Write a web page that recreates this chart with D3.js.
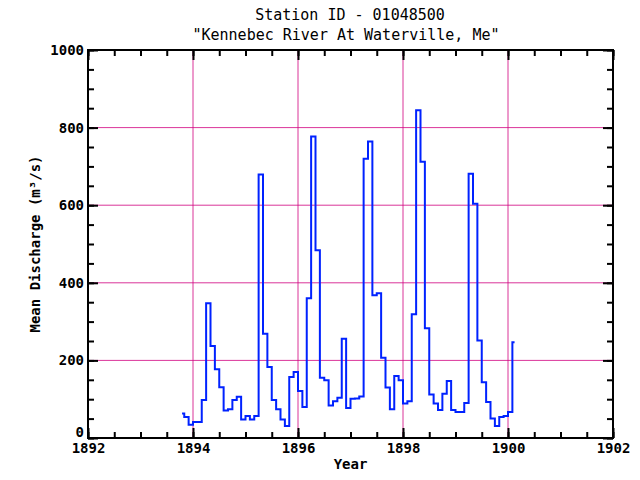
<!DOCTYPE html>
<html><head><meta charset="utf-8">
<script src="https://d3js.org/d3.v7.min.js"></script>
<style>body{margin:0;background:#fff}text{font-family:"DejaVu Sans Mono",monospace;font-weight:bold;fill:#000}</style>
</head><body><div id="chart"></div>
<script>
// monthly mean discharge, Oct 1893 .. Feb 1900
const startYear = 1893, startMonth = 9
const discharge = [
  63, 54, 34,
  41, 41, 98, 347, 237, 177, 131, 71, 74, 98, 106, 48,
  57, 48, 57, 679, 269, 183, 98, 74, 48, 31, 157, 170,
  121, 80, 360, 777, 484, 155, 149, 84, 95, 104, 256, 77,
  101, 102, 107, 720, 764, 368, 373, 207, 130, 74, 160, 149,
  89, 95, 319, 845, 712, 283, 112, 89, 72, 114, 147, 72,
  67, 67, 90, 681, 604, 251, 144, 93, 50, 31, 54, 57,
  67, 247
]
const xTicks = [1892, 1894, 1896, 1898, 1900, 1902]
const yTicks = [0, 200, 400, 600, 800, 1000]

const data = discharge.map((v, i) => ({t: startYear + (startMonth + i + 0.5) / 12, v: v}))

const W = 640, H = 480
const margin = {top: 50, right: 27, bottom: 42, left: 88}
const width = W - margin.left - margin.right,
    height = H - margin.top - margin.bottom

const svg = d3.select("#chart").append("svg").attr("width", W).attr("height", H)
const g = svg.append("g").attr("transform", `translate(${margin.left},${margin.top})`)

const x = d3.scaleLinear().domain([1892, 1902]).range([0, width])
const y = d3.scaleLinear().domain([0, 1000]).range([height, 0])

// grid
const grid = "#d0007f"
g.selectAll("line.hg").data(yTicks.slice(1, -1)).join("line")
    .attr("x1", 0).attr("x2", width).attr("y1", d => y(d)).attr("y2", d => y(d))
    .attr("stroke", grid).attr("stroke-width", 0.8)
g.selectAll("line.vg").data(xTicks.slice(1, -1)).join("line")
    .attr("y1", 0).attr("y2", height).attr("x1", d => x(d)).attr("x2", d => x(d))
    .attr("stroke", grid).attr("stroke-width", 0.8)

// data line
g.append("path").datum(data)
    .attr("fill", "none").attr("stroke", "#0022ff").attr("stroke-width", 2)
    .attr("d", d3.line().curve(d3.curveStep).x(d => x(d.t)).y(d => y(d.v)))

// axes, ticks inward
const minorX = d3.range(1892, 1902.01, 0.5), minorY = d3.range(0, 1000.1, 50)
function axis(gen, tr, labels) {
  const a = g.append("g").attr("transform", tr).call(gen)
  a.select(".domain").remove()
  a.selectAll("line").attr("stroke", "#000").attr("stroke-width", 2)
  if (!labels) a.selectAll("text").remove()
  else a.selectAll("text").style("font-size", "14px")
  return a
}
axis(d3.axisBottom(x).tickValues(minorX).tickSize(-6).tickFormat(""), `translate(0,${height})`)
axis(d3.axisBottom(x).tickValues(xTicks).tickSize(-10).tickPadding(5).tickFormat(d3.format("d")), `translate(0,${height})`, true)
axis(d3.axisTop(x).tickValues(minorX).tickSize(-6).tickFormat(""), "translate(0,0)")
axis(d3.axisTop(x).tickValues(xTicks).tickSize(-10).tickFormat(""), "translate(0,0)")
axis(d3.axisLeft(y).tickValues(minorY).tickSize(-6).tickFormat(""), "translate(0,0)")
const yl = axis(d3.axisLeft(y).tickValues(yTicks).tickSize(-10).tickPadding(4).tickFormat(d3.format("d")), "translate(0,0)", true)
yl.selectAll("text").filter(d => d === 0).attr("dy", "-0.1em")
axis(d3.axisRight(y).tickValues(minorY).tickSize(-6).tickFormat(""), `translate(${width},0)`)
axis(d3.axisRight(y).tickValues(yTicks).tickSize(-10).tickFormat(""), `translate(${width},0)`)

g.append("rect").attr("width", width).attr("height", height)
    .attr("fill", "none").attr("stroke", "#000").attr("stroke-width", 2)

// titles
svg.append("text").attr("x", 350).attr("y", 20).attr("text-anchor", "middle")
    .style("font-size", "15px").style("font-weight", "normal").text("Station ID - 01048500")
svg.append("text").attr("x", 346).attr("y", 40).attr("text-anchor", "middle")
    .style("font-size", "15px").style("font-weight", "normal").text("\"Kennebec River At Waterville, Me\"")
svg.append("text").attr("x", margin.left + width / 2).attr("y", 469).attr("text-anchor", "middle")
    .style("font-size", "14px").text("Year")
svg.append("text").attr("transform", `translate(40,${margin.top + height / 2}) rotate(-90)`)
    .attr("text-anchor", "middle").style("font-size", "14px").text("Mean Discharge (m³/s)")
</script></body></html>
